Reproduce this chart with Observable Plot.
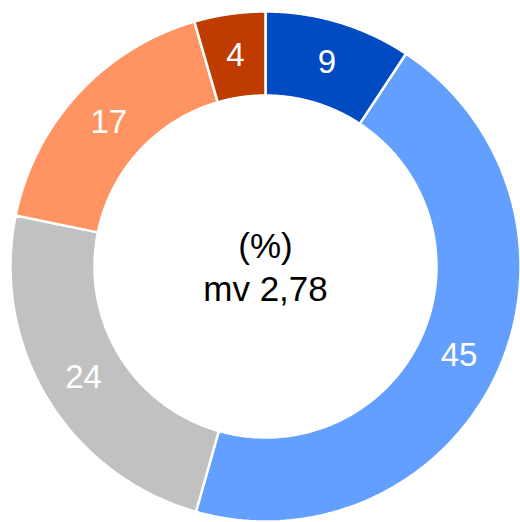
<!DOCTYPE html>
<html>
<head>
<meta charset="utf-8">
<script src="https://cdn.jsdelivr.net/npm/d3@7"></script>
<script src="https://cdn.jsdelivr.net/npm/@observablehq/plot@0.6"></script>
<style>
  html, body { margin: 0; padding: 0; background: #fff; }
  #chart svg { display: block; }
</style>
</head>
<body>
<div id="chart"></div>
<script>
// Data
const categories = ["a", "b", "c", "d", "e"];
const values = [9.3, 45.1, 23.8, 17.3, 4.5];        // slice sizes (%)
const labels = ["9", "45", "24", "17", "4"];         // printed labels
const colors = ["#004BC2", "#639FFF", "#C1C1C1", "#FF9361", "#BE3C00"];
const centerText = "(%)\nmv 2,78";

const W = 520, H = 522;
const R = 255, r = 171;       // outer / inner radius (data units = px)
const cx = 265, cy = 266;     // center in pixels

const pie = d3.pie().sort(null).value(d => d.value)
  (categories.map((c, i) => ({cat: c, value: values[i], label: labels[i]})));

// polygon outline points for each slice (angle 0 = top, clockwise)
const pts = [];
for (const s of pie) {
  const n = 120;
  const outer = [], inner = [];
  for (let k = 0; k <= n; k++) {
    const a = s.startAngle + (s.endAngle - s.startAngle) * k / n;
    outer.push({cat: s.data.cat, x: R * Math.sin(a), y: R * Math.cos(a)});
    inner.push({cat: s.data.cat, x: r * Math.sin(a), y: r * Math.cos(a)});
  }
  pts.push(...outer, ...inner.reverse());
}

const lab = pie.map(s => {
  const a = (s.startAngle + s.endAngle) / 2, m = (R + r) / 2;
  return {x: m * Math.sin(a), y: m * Math.cos(a), label: s.data.label};
});

const chart = Plot.plot({
  width: W,
  height: H,
  margin: 0,
  x: {domain: [-cx, W - cx], range: [0, W], axis: null},
  y: {domain: [cy, cy - H], range: [0, H], axis: null},
  color: {domain: categories, range: colors},
  style: {fontFamily: "Liberation Sans, Arial, sans-serif", background: "white"},
  marks: [
    Plot.line(pts, {x: "x", y: "y", z: "cat", fill: "cat", stroke: "white", strokeWidth: 2.5, curve: "linear-closed"}),
    Plot.text(lab, {x: "x", y: "y", text: "label", fill: "white", fontSize: 33}),
    Plot.text([{x: 0, y: 0}], {x: "x", y: "y", text: () => centerText, fontSize: 35, lineHeight: 1.23, fill: "black", dy: -1})
  ]
});
document.getElementById("chart").appendChild(chart);
</script>
</body>
</html>
